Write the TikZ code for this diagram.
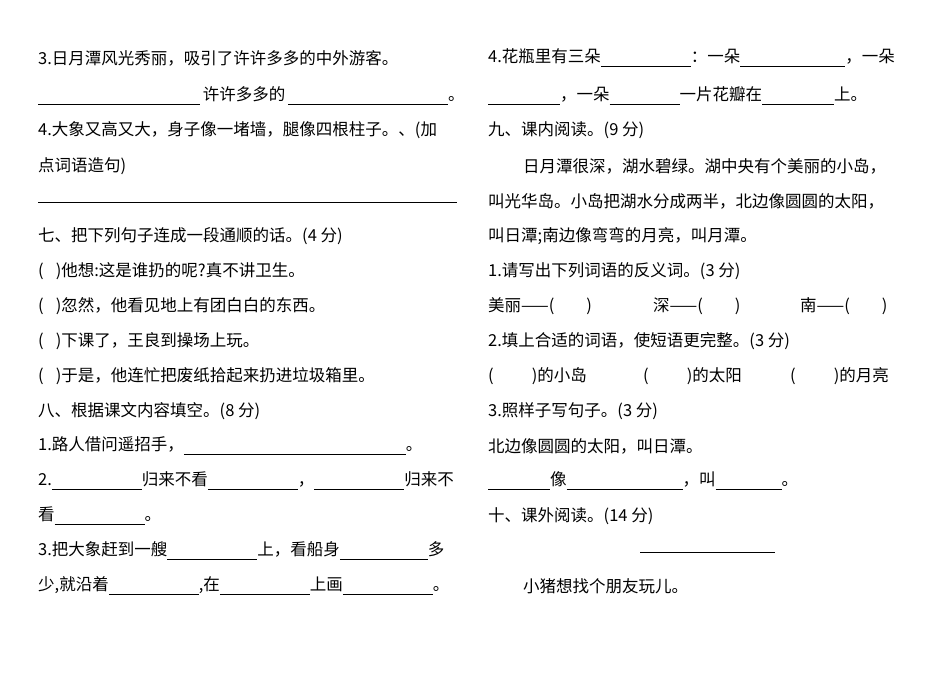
\documentclass[tikz,border=0pt]{standalone}
\usepackage{fontspec}
\setmainfont{Noto Sans CJK SC}
\newcommand{\blank}[1]{\rule[-4pt]{#1pt}{0.6pt}}
\begin{document}
\begin{tikzpicture}[x=1pt,y=-1pt,txt/.style={anchor=west,inner sep=0pt,font=\fontsize{16.5}{18}\selectfont}]
\useasboundingbox (0,0) rectangle (950,672);
\fill[white] (0,0) rectangle (950,672);
% left column
\node[txt] (l1) at (38,58) {3.日月潭风光秀丽，吸引了许许多多的中外游客。};
\node[txt] (l2) at (38,96) {\blank{162}\,许许多多的\,\blank{160}。};
\node[txt] (l3) at (38,130) {4.大象又高又大，身子像一堵墙，腿像四根柱子。、(加};
\node[txt] (l4) at (38,166) {点词语造句)};
\node[txt] (l5) at (38,201) {\blank{419}};
\node[txt] (l6) at (38,236) {七、把下列句子连成一段通顺的话。(4 分)};
\node[txt] (l7) at (38,271) {(\hspace{12pt})他想:这是谁扔的呢?真不讲卫生。};
\node[txt] (l8) at (38,306) {(\hspace{12pt})忽然，他看见地上有团白白的东西。};
\node[txt] (l9) at (38,341) {(\hspace{12pt})下课了，王良到操场上玩。};
\node[txt] (l10) at (38,376) {(\hspace{12pt})于是，他连忙把废纸拾起来扔进垃圾箱里。};
\node[txt] (l11) at (38,411) {八、根据课文内容填空。(8 分)};
\node[txt] (l12) at (38,446) {1.路人借问遥招手，\blank{222}。};
\node[txt] (l13) at (38,481) {2.\blank{90}归来不看\blank{90}，\blank{90}归来不};
\node[txt] (l14) at (38,516) {看\blank{90}。};
\node[txt] (l15) at (38,551) {3.把大象赶到一艘\blank{90}上，看船身\blank{88}多};
\node[txt] (l16) at (38,586) {少,就沿着\blank{90},在\blank{90}上画\blank{90}。};
% right column
\node[txt] (r1) at (488,58) {4.花瓶里有三朵\blank{90}：一朵\blank{105}，一朵};
\node[txt] (r2) at (488,96) {\blank{72}，一朵\blank{70}一片花瓣在\blank{72}上。};
\node[txt] (r3) at (488,130) {九、课内阅读。(9 分)};
\node[txt] (r4) at (523,166) {日月潭很深，湖水碧绿。湖中央有个美丽的小岛，};
\node[txt] (r5) at (488,201) {叫光华岛。小岛把湖水分成两半，北边像圆圆的太阳，};
\node[txt] (r6) at (488,236) {叫日潭;南边像弯弯的月亮，叫月潭。};
\node[txt] (r7) at (488,271) {1.请写出下列词语的反义词。(3 分)};
\node[txt] (r8a) at (488,306) {美丽——(\hspace{32pt})};
\node[txt] (r8b) at (653,306) {深——(\hspace{32pt})};
\node[txt] (r8c) at (800,306) {南——(\hspace{32pt})};
\node[txt] (r9) at (488,341) {2.填上合适的词语，使短语更完整。(3 分)};
\node[txt] (r10a) at (488,376) {(\hspace{38pt})的小岛};
\node[txt] (r10b) at (643,376) {(\hspace{38pt})的太阳};
\node[txt] (r10c) at (790,376) {(\hspace{38pt})的月亮};
\node[txt] (r11) at (488,411) {3.照样子写句子。(3 分)};
\node[txt] (r12) at (488,446) {北边像圆圆的太阳，叫日潭。};
\node[txt] (r13) at (488,481) {\blank{62}像\blank{116}，叫\blank{66}。};
\node[txt] (r14) at (488,516) {十、课外阅读。(14 分)};
\node[txt] (r15) at (640,551) {\blank{135}};
\node[txt] (r16) at (523,586) {小猪想找个朋友玩儿。};
\end{tikzpicture}
\end{document}
